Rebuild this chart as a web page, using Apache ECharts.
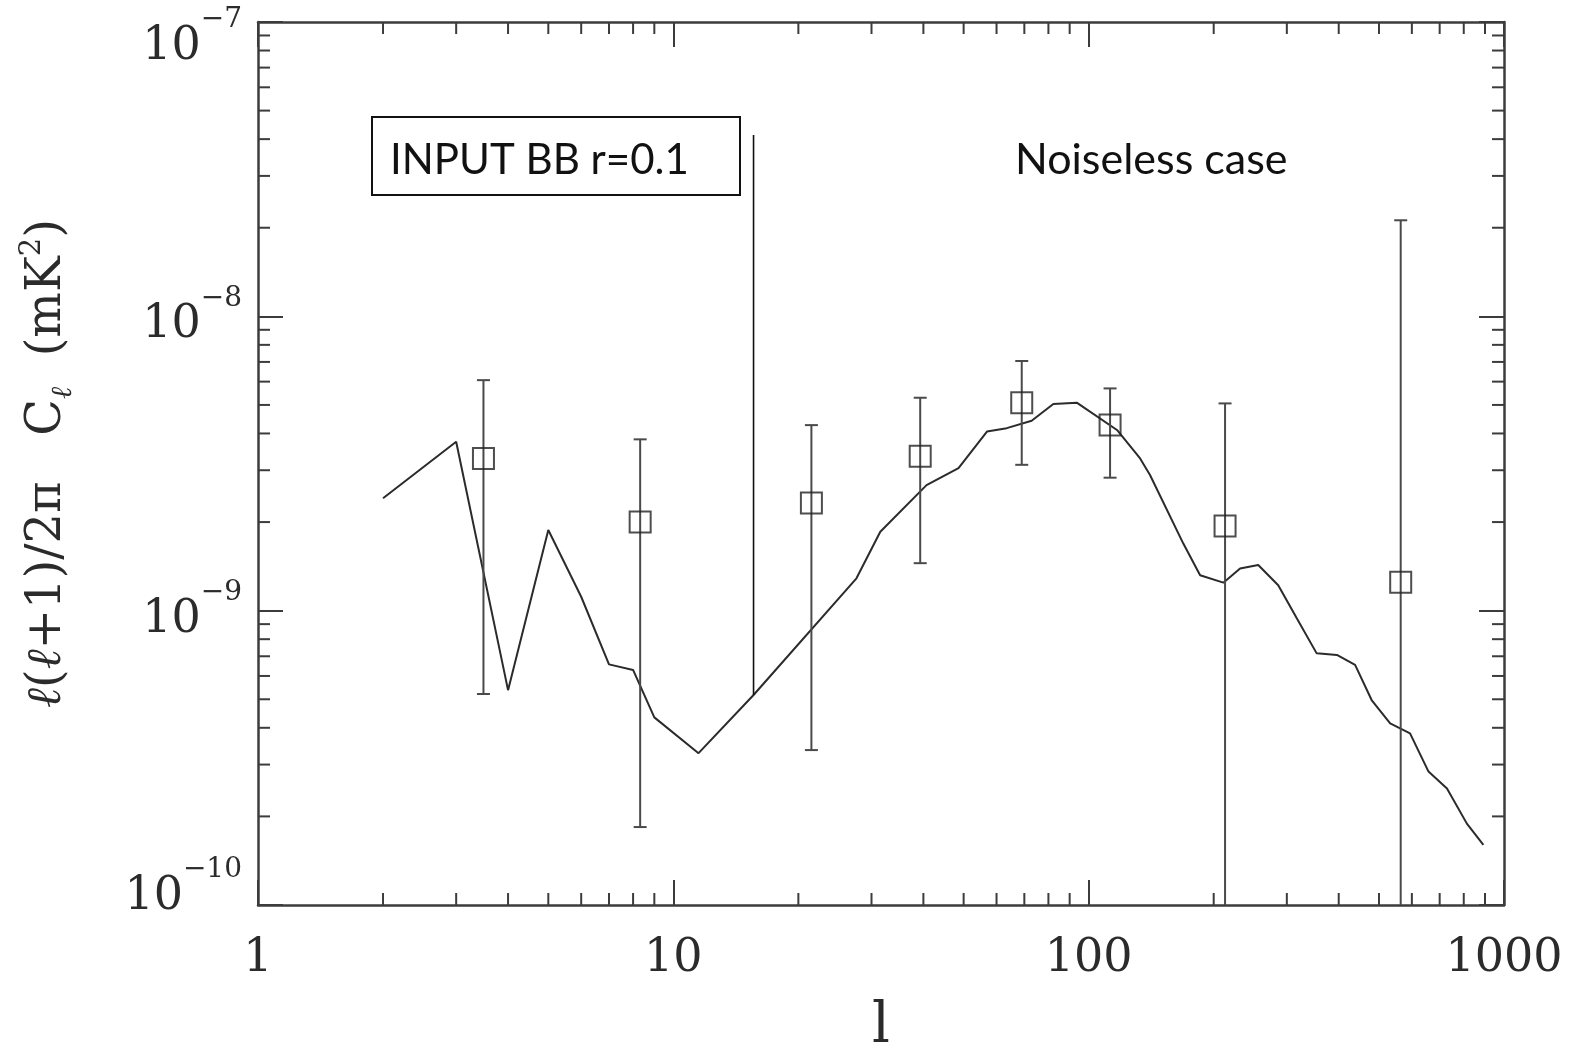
<!DOCTYPE html>
<html>
<head>
<meta charset="utf-8">
<script src="https://cdn.jsdelivr.net/npm/echarts@6/dist/echarts.min.js"></script>
<style>
  html, body { margin: 0; padding: 0; background: #fff; }
  #chart { width: 1575px; height: 1049px; }
</style>
</head>
<body>
<div id="chart"></div>
<script>
// Multipole range and power range of the plot (log axes)
const L_MIN = 1, L_MAX = 1000;
const P_MIN = 1e-10, P_MAX = 1e-7;

// Input BB spectrum (r = 0.1), binned multipoles
const modelL = [2, 3, 4, 5, 6, 7, 8, 9, 11.5, 15.6, 27.6, 31.5, 40.7, 48.6, 56.9, 63.5, 72.9, 82.2, 93.6,
  117, 133, 140.5, 169, 185.5, 211, 231.5, 256, 286, 317, 354, 396, 438, 480, 532, 594, 658, 729, 814, 892];
const modelCl = [2.41e-9, 3.75e-9, 5.37e-10, 1.88e-9, 1.115e-9, 6.57e-10, 6.29e-10, 4.34e-10, 3.28e-10, 5.17e-10,
  1.288e-9, 1.855e-9, 2.67e-9, 3.05e-9, 4.06e-9, 4.17e-9, 4.42e-9, 5.04e-9, 5.09e-9,
  4.11e-9, 3.29e-9, 2.89e-9, 1.69e-9, 1.32e-9, 1.245e-9, 1.39e-9, 1.43e-9, 1.22e-9, 9.42e-10, 7.16e-10,
  7.07e-10, 6.54e-10, 4.97e-10, 4.14e-10, 3.83e-10, 2.84e-10, 2.49e-10, 1.89e-10, 1.60e-10];

// Recovered band powers with their error ranges (0 = lower end below zero)
const binL = [3.49, 8.32, 21.5, 39.3, 69.0, 112.6, 213, 564];
const binCl = [3.29e-9, 2.0e-9, 2.32e-9, 3.35e-9, 5.09e-9, 4.27e-9, 1.94e-9, 1.25e-9];
const binLow = [5.21e-10, 1.84e-10, 3.36e-10, 1.45e-9, 3.13e-9, 2.83e-9, 0, 0];
const binHigh = [6.07e-9, 3.82e-9, 4.27e-9, 5.29e-9, 7.05e-9, 5.69e-9, 5.06e-9, 2.12e-8];

// Vertical marker next to the label box
const markerL = 15.6;
const markerTop = 4.13e-8;

// Tick labels and minor tick multipliers
const xTickLabels = ['1', '10', '100', '1000'];
const yTickBase = '10';
const yTickExponents = ['\u221210', '\u22129', '\u22128', '\u22127'];
const minorSteps = [2, 3, 4, 5, 6, 7, 8, 9];
const xDecades = [1, 10, 100];
const yDecades = [1e-10, 1e-9, 1e-8];

const INK = '#2b2b2b';
const AXIS = '#3c3c3c';
const SERIF = '"DejaVu Serif", "Liberation Serif", serif';

const xMinor = xDecades.flatMap(d => minorSteps.map(m => m * d));
const yMinor = yDecades.flatMap(d => minorSteps.map(m => +(m * d).toPrecision(3)));
const tickData = xMinor.map(v => [v, P_MIN, 0]).concat(yMinor.map(v => [L_MIN, v, 1]));

const chart = echarts.init(document.getElementById('chart'), null, { renderer: 'canvas' });

// y tick label: "10" with a raised exponent; the end labels are nudged inside the frame
function yLabel(v) {
  const i = Math.round(Math.log10(v)) + 10;
  const core = '{b|' + yTickBase + '}{e|' + yTickExponents[i] + '}';
  if (i === yTickExponents.length - 1) return '{gt| }\n' + core;
  if (i === 0) return core + '\n{gb| }';
  return core;
}

const majorTick = { show: true, inside: true, length: 25, lineStyle: { color: AXIS, width: 2 } };
const axisLine = { show: true, lineStyle: { color: AXIS, width: 2.5 } };

const option = {
  backgroundColor: '#ffffff',
  animation: false,
  grid: { left: 258, right: 71, top: 22, bottom: 144, containLabel: false, outerBoundsMode: 'none' },
  xAxis: [
    {
      type: 'log', logBase: 10, min: L_MIN, max: L_MAX, position: 'bottom',
      axisLine: axisLine, axisTick: majorTick, splitLine: { show: false }, minorTick: { show: false },
      axisLabel: {
        margin: 31, fontFamily: SERIF, fontSize: 46, color: INK,
        formatter: v => xTickLabels[Math.round(Math.log10(v))]
      },
      name: 'l', nameLocation: 'middle', nameGap: 94,
      nameTextStyle: { fontFamily: SERIF, fontSize: 56, color: INK }
    },
    {
      type: 'log', logBase: 10, min: L_MIN, max: L_MAX, position: 'top',
      axisLine: axisLine, axisTick: majorTick, axisLabel: { show: false }, splitLine: { show: false }
    }
  ],
  yAxis: [
    {
      type: 'log', logBase: 10, min: P_MIN, max: P_MAX, position: 'left',
      axisLine: axisLine, axisTick: majorTick, splitLine: { show: false }, minorTick: { show: false },
      axisLabel: {
        margin: 16, formatter: yLabel, align: 'right',
        rich: {
          b: { fontFamily: SERIF, fontSize: 46, color: INK, lineHeight: 64, verticalAlign: 'bottom', align: 'right' },
          e: { fontFamily: SERIF, fontSize: 28, color: INK, lineHeight: 28, verticalAlign: 'top', align: 'right' },
          gt: { fontSize: 4, lineHeight: 32, align: 'right' },
          gb: { fontSize: 4, lineHeight: 34, align: 'right' }
        }
      },
      name: '{l|\u2113}{t|(}{l|\u2113}{t|+1)/2\u03c0   C}{s|\u2113}{t|  (mK}{p|2}{t|)}',
      nameLocation: 'middle', nameRotate: 90, nameGap: 180,
      nameTextStyle: {
        rich: {
          t: { fontFamily: SERIF, fontSize: 48, color: INK, lineHeight: 60, verticalAlign: 'middle' },
          l: { fontFamily: SERIF, fontSize: 48, fontStyle: 'italic', color: INK, lineHeight: 60, verticalAlign: 'middle' },
          s: { fontFamily: SERIF, fontSize: 29, fontStyle: 'italic', color: INK, lineHeight: 30, verticalAlign: 'bottom' },
          p: { fontFamily: SERIF, fontSize: 29, color: INK, lineHeight: 30, verticalAlign: 'top' }
        }
      }
    },
    {
      type: 'log', logBase: 10, min: P_MIN, max: P_MAX, position: 'right',
      axisLine: axisLine, axisTick: majorTick, axisLabel: { show: false }, splitLine: { show: false }
    }
  ],
  graphic: [
    {
      type: 'rect', left: 371, top: 116, z: 50,
      shape: { width: 368, height: 78 },
      style: { fill: '#ffffff', stroke: '#111', lineWidth: 2 }
    },
    {
      type: 'text', left: 390, top: 139, z: 51,
      style: { text: 'INPUT BB r=0.1', font: '42px Lato', fill: '#111' }
    },
    {
      type: 'text', left: 1015, top: 139, z: 51,
      style: { text: 'Noiseless case', font: '43px Lato', fill: '#111' }
    }
  ],
  series: [
    {
      // minor ticks along all four frame edges
      type: 'custom', xAxisIndex: 0, yAxisIndex: 0, clip: false, silent: true, z: 3,
      data: tickData,
      renderItem: function (params, api) {
        const cs = params.coordSys;
        const p = api.coord([api.value(0), api.value(1)]);
        const len = 12;
        const st = { stroke: AXIS, lineWidth: 2 };
        if (api.value(2) === 0) {
          const yb = cs.y + cs.height;
          return { type: 'group', children: [
            { type: 'line', shape: { x1: p[0], y1: yb, x2: p[0], y2: yb - len }, style: st },
            { type: 'line', shape: { x1: p[0], y1: cs.y, x2: p[0], y2: cs.y + len }, style: st }
          ] };
        }
        const xr = cs.x + cs.width;
        return { type: 'group', children: [
          { type: 'line', shape: { x1: cs.x, y1: p[1], x2: cs.x + len, y2: p[1] }, style: st },
          { type: 'line', shape: { x1: xr, y1: p[1], x2: xr - len, y2: p[1] }, style: st }
        ] };
      }
    },
    {
      name: 'model', type: 'line', xAxisIndex: 0, yAxisIndex: 0,
      data: modelL.map((l, i) => [l, modelCl[i]]),
      symbol: 'none', smooth: false, z: 4,
      lineStyle: { color: INK, width: 2 }
    },
    {
      name: 'marker', type: 'line', xAxisIndex: 0, yAxisIndex: 0,
      data: [[markerL, markerTop], [markerL, modelCl[modelL.indexOf(markerL)]]],
      symbol: 'none', z: 6,
      lineStyle: { color: '#111', width: 1.6 }
    },
    {
      // error bars of the recovered band powers
      type: 'custom', xAxisIndex: 0, yAxisIndex: 0, clip: true, z: 5,
      data: binL.map((l, i) => [l, binLow[i], binHigh[i]]),
      renderItem: function (params, api) {
        const cs = params.coordSys;
        const l = api.value(0);
        const top = api.coord([l, api.value(2)]);
        const low = api.value(1);
        const st = { stroke: '#4a4a4a', lineWidth: 2 };
        const cap = 6.5;
        const kids = [];
        let yLow;
        if (low > 0) {
          yLow = api.coord([l, low])[1];
          kids.push({ type: 'line', shape: { x1: top[0] - cap, y1: yLow, x2: top[0] + cap, y2: yLow }, style: st });
        } else {
          yLow = cs.y + cs.height;
        }
        kids.push({ type: 'line', shape: { x1: top[0], y1: top[1], x2: top[0], y2: yLow }, style: st });
        kids.push({ type: 'line', shape: { x1: top[0] - cap, y1: top[1], x2: top[0] + cap, y2: top[1] }, style: st });
        return { type: 'group', children: kids };
      }
    },
    {
      name: 'bands', type: 'scatter', xAxisIndex: 0, yAxisIndex: 0,
      data: binL.map((l, i) => [l, binCl[i]]),
      symbol: 'rect', symbolSize: 21, z: 7,
      itemStyle: { color: 'rgba(0,0,0,0)', borderColor: '#222', borderWidth: 2 }
    }
  ]
};

chart.setOption(option);
</script>
</body>
</html>
